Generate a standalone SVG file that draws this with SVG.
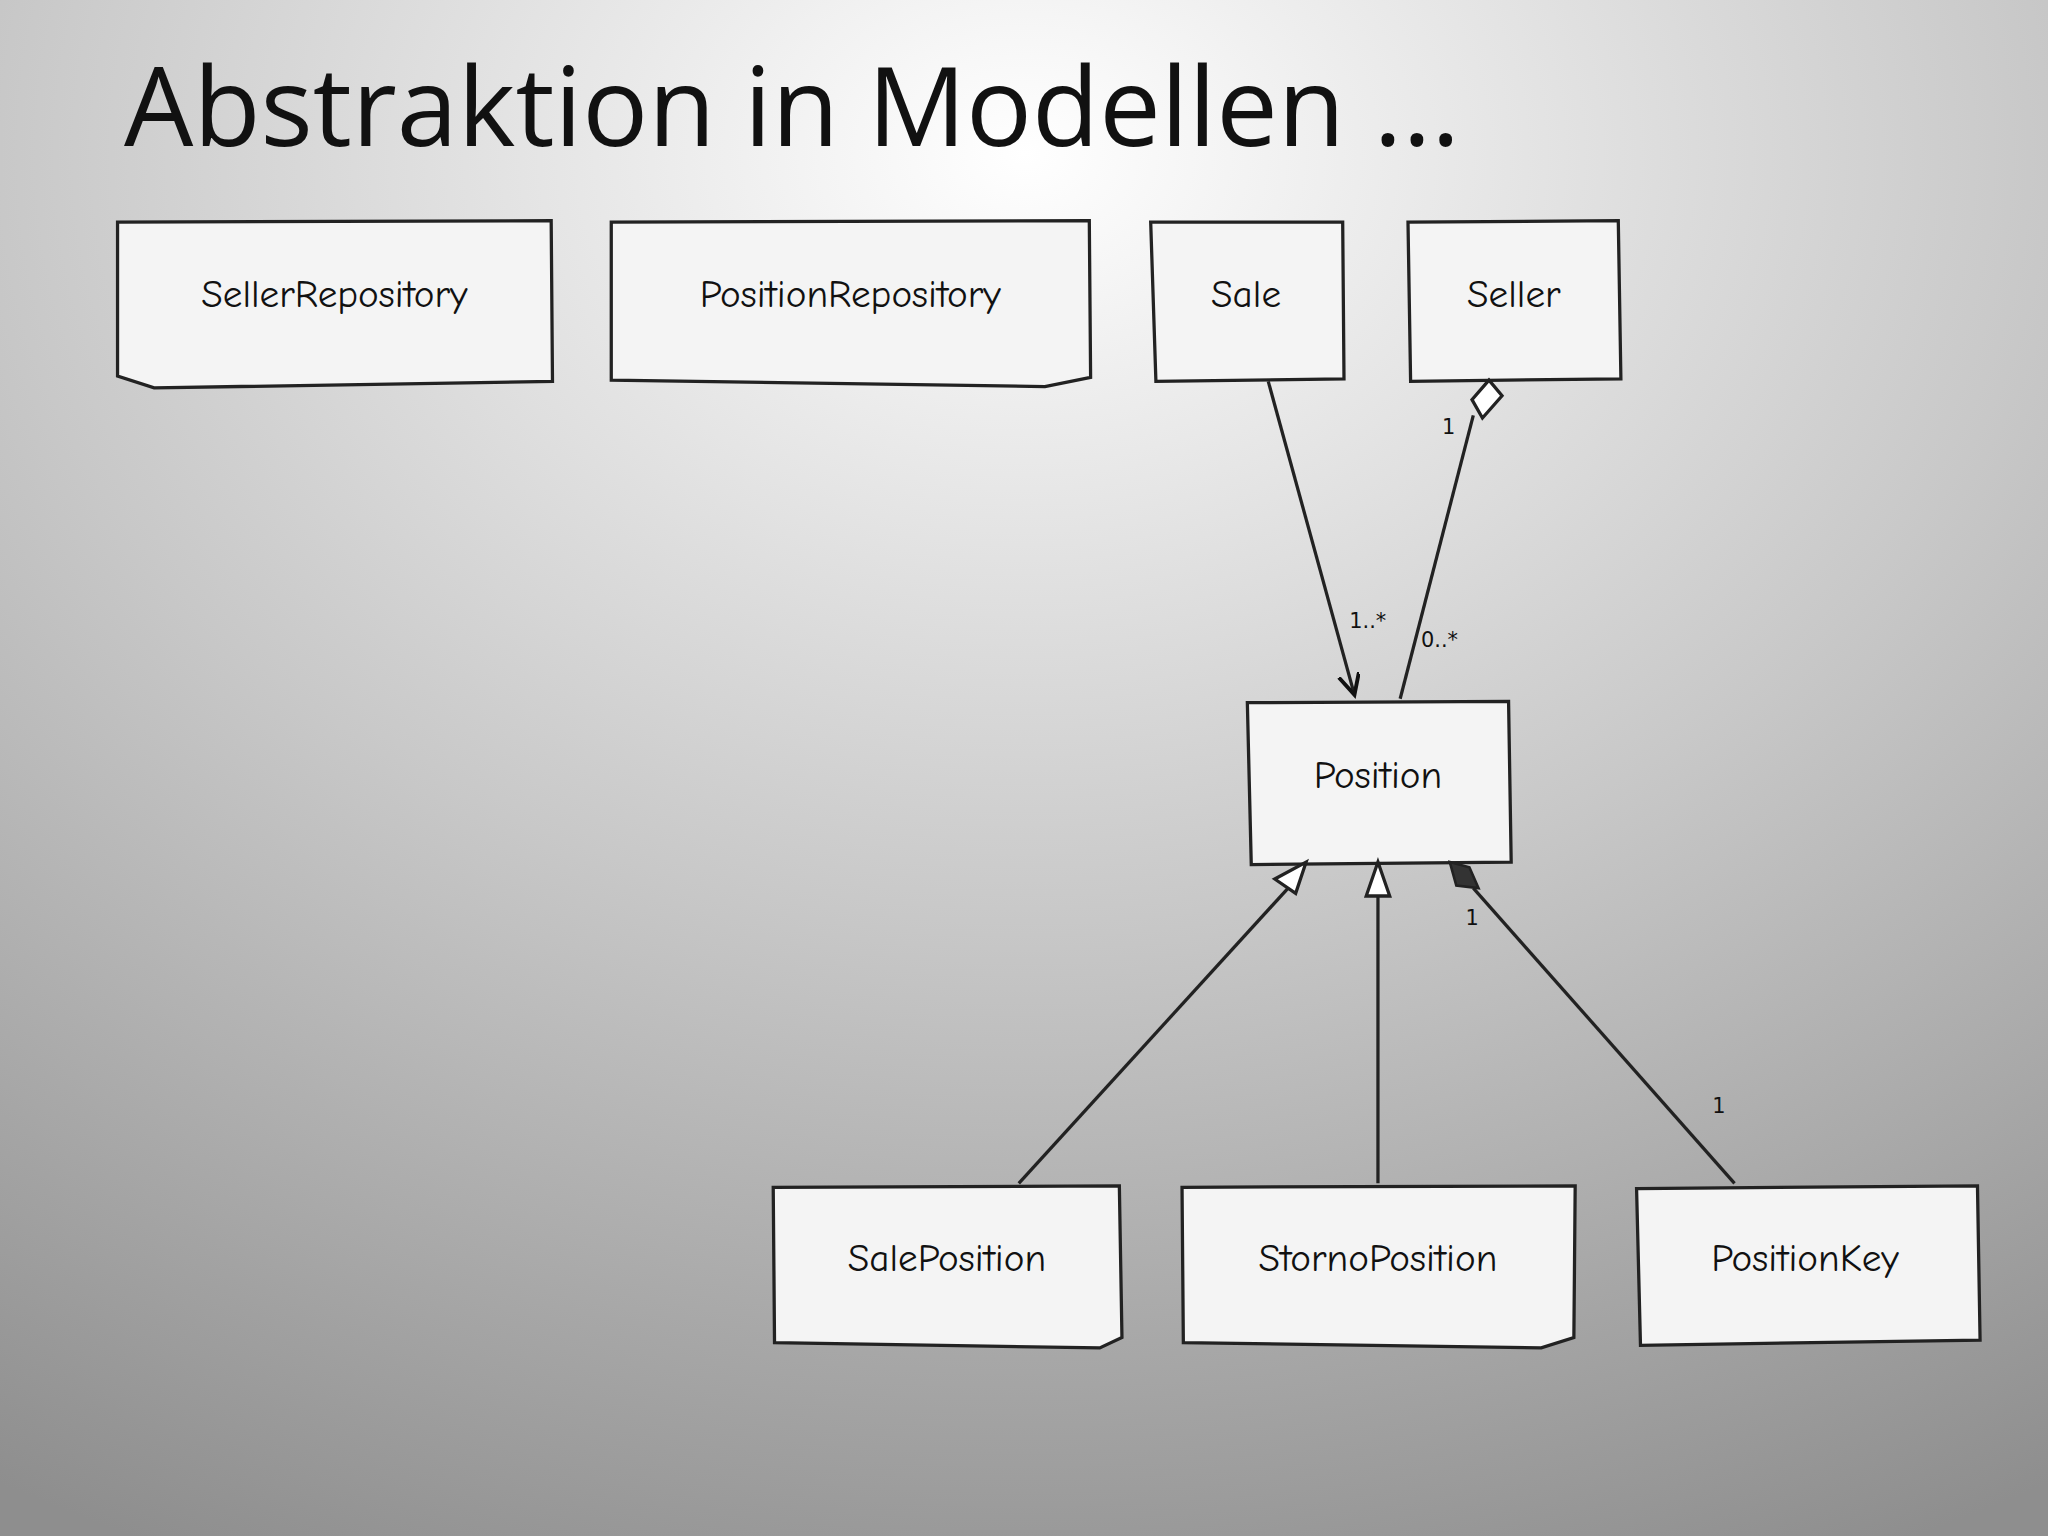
<svg xmlns="http://www.w3.org/2000/svg" width="2048" height="1536" viewBox="0 0 2048 1536">
<defs>
<radialGradient id="bg" cx="0.5" cy="0.1" r="1.0">
<stop offset="0" stop-color="#ffffff"/>
<stop offset="0.5" stop-color="#c8c8c8"/>
<stop offset="1" stop-color="#8e8e8e"/>
</radialGradient>
<marker id="open" markerWidth="20" markerHeight="20" refX="16" refY="8" orient="auto" markerUnits="userSpaceOnUse">
<path d="M0,0 L16,8 L0,16" fill="none" stroke="#111" stroke-width="3"/>
</marker>
</defs>
<style>
.box{fill:#f4f4f4;stroke:#222;stroke-width:2.5}
.lbl{font-family:"Comic Neue","DejaVu Sans",sans-serif;font-size:30px;fill:#111;text-anchor:middle}
.mult{font-family:"DejaVu Sans",sans-serif;font-size:16px;fill:#111}
.ln{stroke:#222;stroke-width:2.5;fill:none}
</style>
<rect width="2048" height="1536" fill="url(#bg)"/>
<g transform="scale(1.30612)">
<text x="95" y="112" font-family="Open Sans, Liberation Sans, sans-serif" font-size="84" fill="#111">Abstraktion in Modellen ...</text>
<g id="SellerRepository"><path class="box" d="M90,170 L422,169 L423,292 L118,297 L90,288 Z"/><text class="lbl" x="256" y="235">SellerRepository</text></g>
<g id="PositionRepository"><path class="box" d="M468,170 L834,169 L835,289 L800,296 L468,291 Z"/><text class="lbl" x="651" y="235">PositionRepository</text></g>
<g id="Sale"><path class="box" d="M881,170 L1028,170 L1029,290 L885,292 Z"/><text class="lbl" x="954" y="235">Sale</text></g>
<g id="Seller"><path class="box" d="M1078,170 L1239,169 L1241,290 L1080,292 Z"/><text class="lbl" x="1159" y="235">Seller</text></g>
<g id="Position"><path class="box" d="M955,538 L1155,537 L1157,660 L958,662 Z"/><text class="lbl" x="1055" y="603">Position</text></g>
<g id="SalePosition"><path class="box" d="M592,909 L857,908 L859,1024 L842,1032 L593,1028 Z"/><text class="lbl" x="725" y="973">SalePosition</text></g>
<g id="StornoPosition"><path class="box" d="M905,909 L1206,908 L1205,1024 L1180,1032 L906,1028 Z"/><text class="lbl" x="1055" y="973">StornoPosition</text></g>
<g id="PositionKey"><path class="box" d="M1253,910 L1514,908 L1516,1026 L1256,1030 Z"/><text class="lbl" x="1382" y="973">PositionKey</text></g>
<g id="connectors">
<line class="ln" x1="971" y1="292" x2="1037" y2="532" marker-end="url(#open)"/>
<line class="ln" x1="1128" y1="318" x2="1072" y2="535"/>
<path d="M1140,291 L1150,303 L1135,320 L1127,306 Z" fill="#fff" stroke="#222" stroke-width="2.5"/>
<line class="ln" x1="780" y1="906" x2="988" y2="678"/>
<path d="M1000,660 L992,684 L976,673 Z" fill="#fff" stroke="#222" stroke-width="2.5"/>
<line class="ln" x1="1055" y1="906" x2="1055" y2="685"/>
<path d="M1055,660 L1064,686 L1046,686 Z" fill="#fff" stroke="#222" stroke-width="2.5"/>
<line class="ln" x1="1328" y1="906" x2="1128" y2="680"/>
<path d="M1110,660 L1125,664 L1132,680 L1115,678 Z" fill="#333" stroke="#222" stroke-width="2"/>
<text class="mult" x="1104" y="332">1</text>
<text class="mult" x="1033" y="481">1..*</text>
<text class="mult" x="1088" y="495">0..*</text>
<text class="mult" x="1122" y="708">1</text>
<text class="mult" x="1311" y="852">1</text>
</g>
</g>
</svg>
